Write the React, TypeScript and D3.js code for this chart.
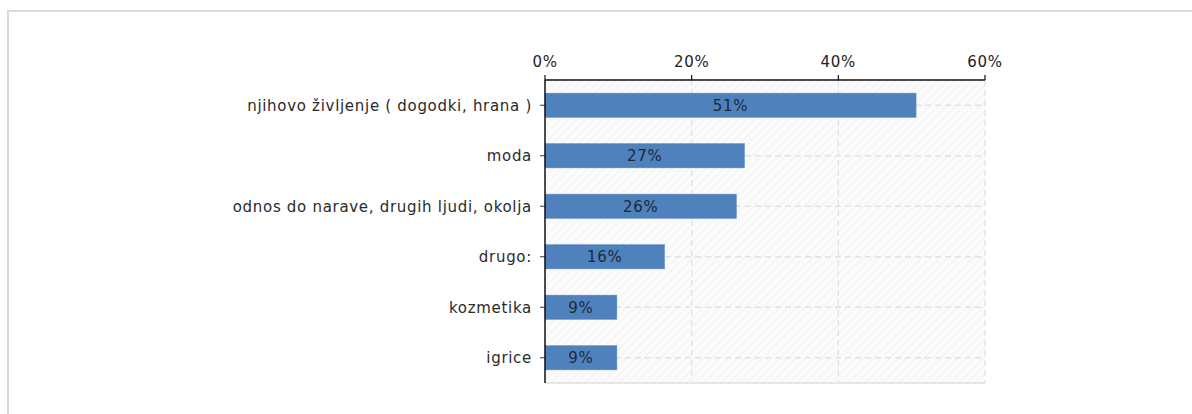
import React from "react";
import * as d3 from "d3";

const categories = [
  "njihovo življenje ( dogodki, hrana )",
  "moda",
  "odnos do narave, drugih ljudi, okolja",
  "drugo:",
  "kozmetika",
  "igrice",
];
const values = [50.6, 27.2, 26.1, 16.3, 9.8, 9.8];
const valueLabels = ["51%", "27%", "26%", "16%", "9%", "9%"];
const xTicks = [0, 20, 40, 60];

const W = 1192;
const H = 414;
const left = 545;
const right = 985;
const top = 80;
const bottom = 383;
const font = "'DejaVu Sans', Verdana, sans-serif";
const fs = 15;
const ls = 0.7;

export default function App() {
  const x = d3.scaleLinear().domain([0, 60]).range([left, right]);
  const y = d3.scaleBand<string>().domain(categories).range([top, bottom]).paddingInner(0.52).paddingOuter(0.26);
  const bw = y.bandwidth();
  return (
    <svg width={W} height={H} style={{ position: "absolute", left: 0, top: 0, background: "#fff" }}>
      <defs>
        <pattern id="hatch" width="6" height="6" patternUnits="userSpaceOnUse" patternTransform="rotate(45)">
          <rect width="6" height="6" fill="#fbfbfb" />
          <line x1="0" y1="0" x2="0" y2="6" stroke="#ececec" strokeWidth="1.2" />
        </pattern>
      </defs>
      <rect x={8} y={11} width={1200} height={420} fill="#fff" stroke="#d9d9d9" strokeWidth={2} />
      <rect x={left} y={top} width={right - left} height={bottom - top} fill="url(#hatch)" />
      <line x1={left} x2={right} y1={bottom} y2={bottom} stroke="#e0e0e0" strokeWidth={1.5} />
      {xTicks.slice(1).map((t) => (
        <line key={"gx" + t} x1={x(t)} x2={x(t)} y1={top} y2={bottom} stroke="#e2e2e2" strokeWidth={1.3} strokeDasharray="6,4" />
      ))}
      {categories.map((c) => (
        <line key={"gy" + c} x1={left} x2={right} y1={y(c)! + bw / 2} y2={y(c)! + bw / 2} stroke="#e2e2e2" strokeWidth={1.3} strokeDasharray="6,4" />
      ))}
      {categories.map((c, i) => (
        <g key={"b" + c}>
          <rect x={x(0)} y={y(c)!} width={x(values[i]) - x(0)} height={bw} fill="#4f81bd" stroke="#5a8ac6" strokeWidth={0.5} />
          <text x={(x(0) + x(values[i])) / 2} y={y(c)! + bw / 2} dy="0.36em" textAnchor="middle" fontFamily={font} fontSize={fs} letterSpacing={ls} fill="#1b2a3a">
            {valueLabels[i]}
          </text>
          <line x1={left - 5} x2={left} y1={y(c)! + bw / 2} y2={y(c)! + bw / 2} stroke="#333" strokeWidth={1} />
          <text x={left - 13} y={y(c)! + bw / 2} dy="0.36em" textAnchor="end" fontFamily={font} fontSize={fs} letterSpacing={ls} fill="#2a2a2a">
            {c}
          </text>
        </g>
      ))}
      <line x1={left} x2={left} y1={top} y2={bottom} stroke="#111" strokeWidth={1.5} />
      <line x1={left} x2={right} y1={top} y2={top} stroke="#111" strokeWidth={1.5} />
      {xTicks.map((t) => (
        <g key={"t" + t}>
          <line x1={x(t)} x2={x(t)} y1={top - 5} y2={top} stroke="#111" strokeWidth={1.2} />
          <text x={x(t)} y={top - 13} textAnchor="middle" fontFamily={font} fontSize={fs} letterSpacing={ls} fill="#222">
            {t}%
          </text>
        </g>
      ))}
    </svg>
  );
}
